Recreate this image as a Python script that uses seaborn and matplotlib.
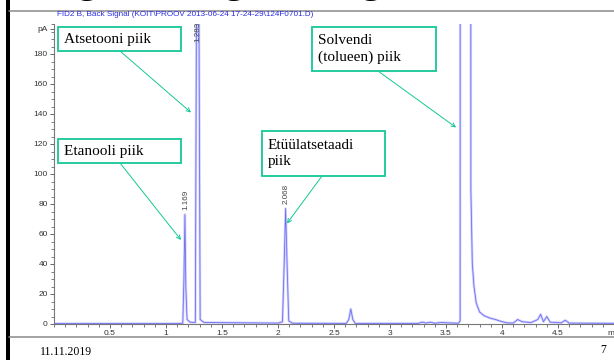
import matplotlib
matplotlib.use('Agg')
import matplotlib.pyplot as plt
import seaborn as sns
import pandas as pd
from matplotlib.patches import Rectangle
from matplotlib.lines import Line2D
from matplotlib.ticker import MultipleLocator

# chromatogram trace (retention time in min, signal in pA)
time_min = [0.00, 1.100, 1.150, 1.160, 1.169, 1.177, 1.188, 1.215,
            1.262, 1.274, 1.283, 1.292, 1.305, 1.340,
            2.000, 2.040, 2.055, 2.068, 2.081, 2.096, 2.130,
            2.610, 2.632, 2.650, 2.668, 2.690,
            3.250, 3.290, 3.320, 3.360, 3.400, 3.450, 3.610, 3.626, 3.634,
            3.712, 3.722, 3.735, 3.750, 3.770, 3.800, 3.840, 3.890, 3.940,
            3.990, 4.040, 4.100, 4.140, 4.180, 4.260, 4.320, 4.345, 4.370,
            4.400, 4.430, 4.530, 4.565, 4.600, 5.050]
signal_pa = [0.3, 0.3, 0.5, 30, 73, 25, 3, 1.2,
             1.0, 250, 900, 250, 3, 1.0,
             0.6, 1.5, 40, 77, 40, 2, 0.5,
             0.4, 3, 10, 3, 0.4,
             0.4, 1.3, 0.6, 1.2, 0.5, 1.0, 0.5, 2, 2500,
             2500, 90, 40, 25, 14, 8, 5.5, 4, 3,
             1.8, 0.8, 0.6, 3, 1.5, 1.0, 3, 6.5, 1.5,
             5, 1.2, 0.8, 2.5, 0.6, 0.4]

peak_times = [1.169, 1.283, 2.068]
peak_labels = ["1.169", "1.283", "2.068"]
integration_start = [1.150, 1.265, 2.040]
integration_end = [1.195, 1.310, 2.100]

x_ticks = [0.5, 1, 1.5, 2, 2.5, 3, 3.5, 4, 4.5, 5]
x_tick_labels = ["0.5", "1", "1.5", "2", "2.5", "3", "3.5", "4", "4.5", "min"]
y_ticks = [0, 20, 40, 60, 80, 100, 120, 140, 160, 180, 197]
y_tick_labels = ["0", "20", "40", "60", "80", "100", "120", "140", "160", "180", "pA"]

callout_texts = ["Atsetooni piik", "Etanooli piik", "Etüülatsetaadi\npiik", "Solvendi\n(tolueen) piik"]
callout_target_x = [1.223, 1.134, 2.080, 3.590]
callout_target_y = [141, 56, 67, 131]

signal_title = "FID2 B, Back Signal (KOIT\\PROOV 2013-06-24 17-24-29\\124F0701.D)"
footer_date = "11.11.2019"
slide_number = "7"

sns.set_theme(style="ticks")
plt.rcParams['font.family'] = ['Liberation Sans', 'DejaVu Sans']

W, H = 614, 360
fig = plt.figure(figsize=(W / 100, H / 100), dpi=100)
fig.patch.set_facecolor('white')


def fx(px):
    return px / W


def fy(py):
    return 1 - py / H


ax = fig.add_axes([fx(54), fy(324), 1 - fx(54), (324 - 24) / H])
ax.set_facecolor('white')

df = pd.DataFrame({'time': time_min, 'signal': signal_pa})
sns.lineplot(data=df, x='time', y='signal', ax=ax, estimator=None, sort=False,
             color='#d2d2ff', linewidth=1.8)
sns.lineplot(data=df, x='time', y='signal', ax=ax, estimator=None, sort=False,
             color='#6f6ff2', linewidth=0.6)

# integration baselines
for s, e in zip(integration_start, integration_end):
    ax.plot([s, e], [0.3, 0.3], color='#ff80cc', lw=0.9, zorder=3)

ax.set_xlim(0, 5.0)
ax.set_ylim(0, 200)
ax.set_xlabel('')
ax.set_ylabel('')

# retention time labels
for t, lab in zip(peak_times, peak_labels):
    h = df.loc[(df['time'] - t).abs().idxmin(), 'signal']
    ax.text(t + 0.005, min(h, 185) + 3, lab, rotation=90, ha='center', va='bottom',
            fontsize=5.8, color='#444444')

ax.set_xticks(x_ticks)
ax.set_xticklabels(x_tick_labels)
ax.set_yticks(y_ticks)
ax.set_yticklabels(y_tick_labels)
ax.xaxis.set_minor_locator(MultipleLocator(0.1))
ax.yaxis.set_minor_locator(MultipleLocator(5))
ax.tick_params(which='major', length=3, width=0.7, color='#666666', labelsize=6,
               labelcolor='#333333', pad=1.5)
ax.tick_params(which='minor', length=2, width=0.6, color='#666666')
for side in ['top', 'right']:
    ax.spines[side].set_visible(False)
for side in ['left', 'bottom']:
    ax.spines[side].set_color('#777777')
    ax.spines[side].set_linewidth(0.8)

# callout boxes (pixel layout) and arrows
teal = '#14c896'
boxes = [(58, 27, 181, 51), (58, 139, 181, 163), (262, 131, 385, 176), (312, 27, 436, 71)]
arrow_starts = [(120, 51), (120, 163), (322, 176), (378, 71)]
for text, (x0, y0, x1, y1), (sx, sy), tx, ty in zip(callout_texts, boxes, arrow_starts,
                                                    callout_target_x, callout_target_y):
    fig.add_artist(Rectangle((fx(x0), fy(y1)), fx(x1 - x0), (y1 - y0) / H,
                             transform=fig.transFigure, facecolor='white',
                             edgecolor=teal, linewidth=1.3, zorder=5))
    fig.text(fx(x0 + 6), fy((y0 + y1) / 2), text, ha='left', va='center',
             family='Liberation Serif', fontsize=11, color='black',
             linespacing=1.3, zorder=6)
    ax.annotate('', xy=(tx, ty), xycoords='data', xytext=(sx, H - sy),
                textcoords='figure pixels', annotation_clip=False,
                arrowprops=dict(arrowstyle='->', color=teal, lw=0.7,
                                shrinkA=0, shrinkB=0, mutation_scale=7))

fig.text(fx(57), fy(15), signal_title, ha='left', va='center', fontsize=5.9,
         color='#2b2be6')

# slide frame
fig.add_artist(Rectangle((fx(6), 0), fx(3.5), 1, transform=fig.transFigure,
                         facecolor='black', edgecolor='none'))
fig.add_artist(Line2D([fx(9), 1], [fy(10.5), fy(10.5)], transform=fig.transFigure,
                      color='#8a8a8a', lw=1.1))
fig.add_artist(Line2D([fx(9), 1], [fy(336.5), fy(336.5)], transform=fig.transFigure,
                      color='#8a8a8a', lw=1.1))

# slide title (only descenders show at the top edge)
for gx in [87, 234, 371]:
    fig.text(fx(gx), fy(-8), 'g', ha='center', va='baseline',
             family='Liberation Serif', fontsize=30, color='black')

fig.text(fx(40), fy(352), footer_date, ha='left', va='center',
         family='Liberation Serif', fontsize=8.5, color='black')
fig.text(fx(603), fy(350), slide_number, ha='center', va='center',
         family='Liberation Serif', fontsize=8.5, color='black')

fig.savefig('out.png', dpi=100)
plt.close(fig)
